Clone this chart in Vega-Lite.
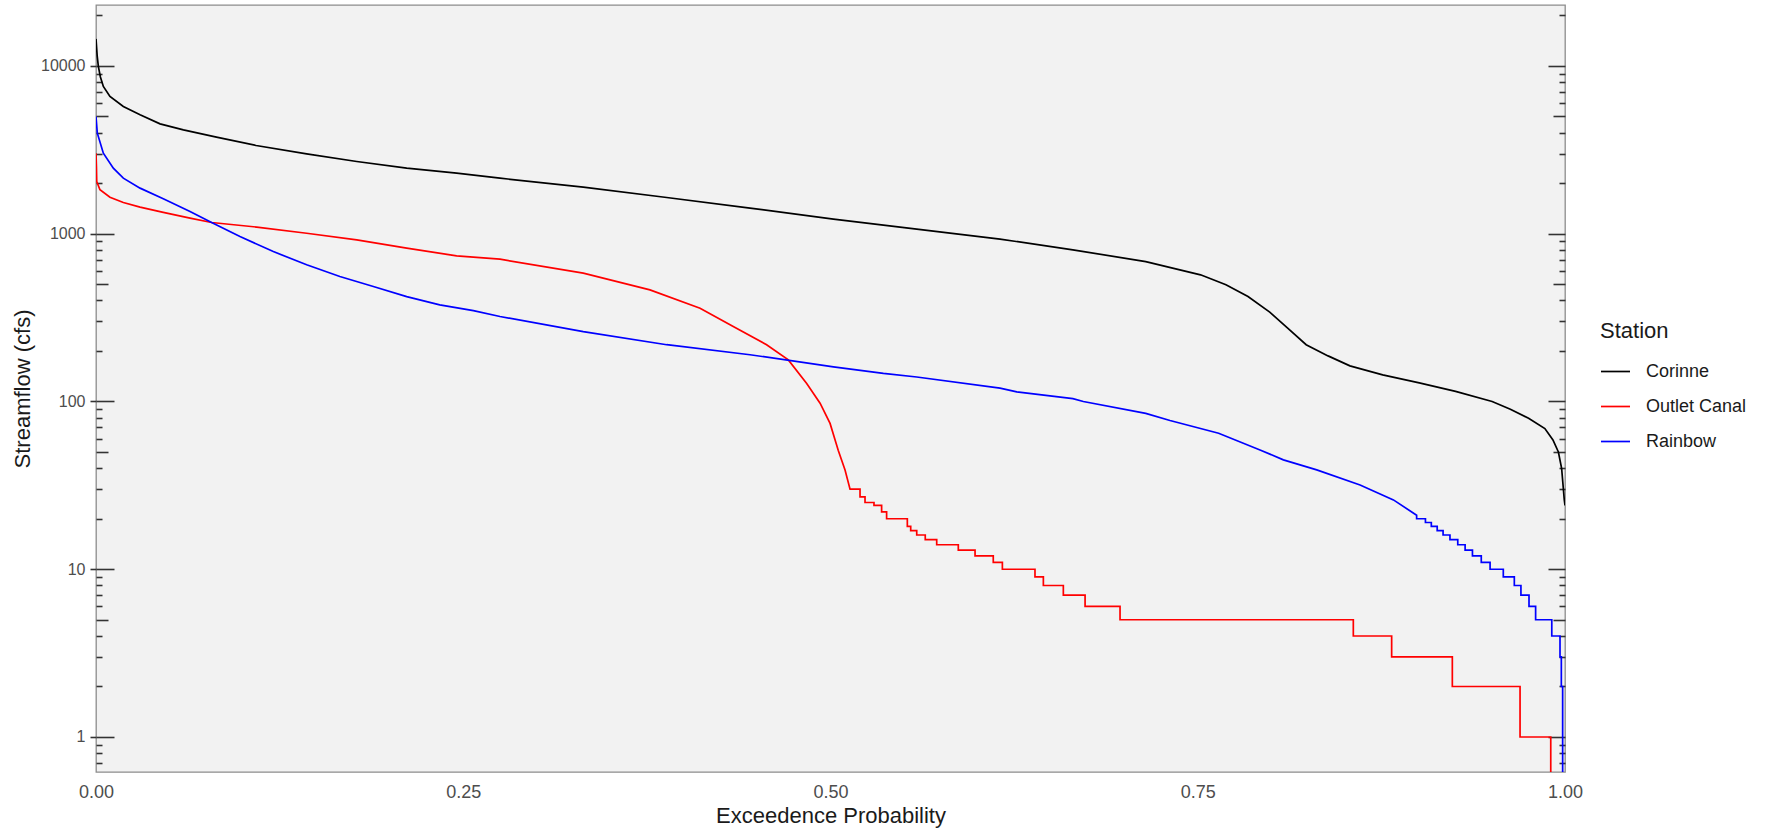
{
  "$schema": "https://vega.github.io/schema/vega-lite/v6.json",
  "width": 1469,
  "height": 767,
  "autosize": {"type": "none"},
  "padding": {"left": 96, "top": 5, "right": 202, "bottom": 61},
  "background": "white",
  "config": {
    "font": "Liberation Sans",
    "view": {"fill": "#F2F2F2", "stroke": "#8C8C8C", "strokeWidth": 1.3},
    "axis": {"grid": false, "domain": false, "tickColor": "#333333", "tickWidth": 1.6, "labelFont": "Liberation Sans", "titleFont": "Liberation Sans"},
    "legend": {"labelFont": "Liberation Sans", "titleFont": "Liberation Sans"}
  },
  "data": {"values": [
    {"station": "Corinne", "p": 0, "flow": 14500},
    {"station": "Corinne", "p": 0.0008, "flow": 11500},
    {"station": "Corinne", "p": 0.0016, "flow": 9940},
    {"station": "Corinne", "p": 0.003, "flow": 8600},
    {"station": "Corinne", "p": 0.005, "flow": 7550},
    {"station": "Corinne", "p": 0.0095, "flow": 6580},
    {"station": "Corinne", "p": 0.0186, "flow": 5740},
    {"station": "Corinne", "p": 0.03, "flow": 5120},
    {"station": "Corinne", "p": 0.0436, "flow": 4520},
    {"station": "Corinne", "p": 0.0595, "flow": 4165},
    {"station": "Corinne", "p": 0.082, "flow": 3770},
    {"station": "Corinne", "p": 0.109, "flow": 3357},
    {"station": "Corinne", "p": 0.1434, "flow": 2994},
    {"station": "Corinne", "p": 0.1775, "flow": 2696},
    {"station": "Corinne", "p": 0.2115, "flow": 2461},
    {"station": "Corinne", "p": 0.2455, "flow": 2297},
    {"station": "Corinne", "p": 0.275, "flow": 2144},
    {"station": "Corinne", "p": 0.3317, "flow": 1897},
    {"station": "Corinne", "p": 0.3885, "flow": 1644},
    {"station": "Corinne", "p": 0.4452, "flow": 1422},
    {"station": "Corinne", "p": 0.502, "flow": 1223},
    {"station": "Corinne", "p": 0.5587, "flow": 1065},
    {"station": "Corinne", "p": 0.6154, "flow": 929},
    {"station": "Corinne", "p": 0.665, "flow": 802},
    {"station": "Corinne", "p": 0.7146, "flow": 682},
    {"station": "Corinne", "p": 0.7519, "flow": 569},
    {"station": "Corinne", "p": 0.7692, "flow": 496},
    {"station": "Corinne", "p": 0.7842, "flow": 422},
    {"station": "Corinne", "p": 0.799, "flow": 341},
    {"station": "Corinne", "p": 0.8114, "flow": 273},
    {"station": "Corinne", "p": 0.8238, "flow": 218},
    {"station": "Corinne", "p": 0.8387, "flow": 187},
    {"station": "Corinne", "p": 0.8536, "flow": 163},
    {"station": "Corinne", "p": 0.8759, "flow": 144},
    {"station": "Corinne", "p": 0.9008, "flow": 129},
    {"station": "Corinne", "p": 0.9255, "flow": 115},
    {"station": "Corinne", "p": 0.9504, "flow": 100},
    {"station": "Corinne", "p": 0.9628, "flow": 90},
    {"station": "Corinne", "p": 0.9752, "flow": 79.5},
    {"station": "Corinne", "p": 0.9863, "flow": 69},
    {"station": "Corinne", "p": 0.9918, "flow": 59},
    {"station": "Corinne", "p": 0.9955, "flow": 50},
    {"station": "Corinne", "p": 0.9977, "flow": 40},
    {"station": "Corinne", "p": 0.9995, "flow": 26},
    {"station": "Corinne", "p": 1.0, "flow": 24},

    {"station": "Outlet Canal", "p": 0, "flow": 3020},
    {"station": "Outlet Canal", "p": 0.0003, "flow": 2500},
    {"station": "Outlet Canal", "p": 0.0005, "flow": 2048},
    {"station": "Outlet Canal", "p": 0.0027, "flow": 1828},
    {"station": "Outlet Canal", "p": 0.0095, "flow": 1652},
    {"station": "Outlet Canal", "p": 0.0186, "flow": 1535},
    {"station": "Outlet Canal", "p": 0.03, "flow": 1442},
    {"station": "Outlet Canal", "p": 0.0458, "flow": 1340},
    {"station": "Outlet Canal", "p": 0.064, "flow": 1240},
    {"station": "Outlet Canal", "p": 0.0787, "flow": 1167},
    {"station": "Outlet Canal", "p": 0.1094, "flow": 1096},
    {"station": "Outlet Canal", "p": 0.1434, "flow": 1007},
    {"station": "Outlet Canal", "p": 0.1775, "flow": 920},
    {"station": "Outlet Canal", "p": 0.2115, "flow": 820},
    {"station": "Outlet Canal", "p": 0.2455, "flow": 738},
    {"station": "Outlet Canal", "p": 0.275, "flow": 705},
    {"station": "Outlet Canal", "p": 0.3317, "flow": 582},
    {"station": "Outlet Canal", "p": 0.3771, "flow": 463},
    {"station": "Outlet Canal", "p": 0.4112, "flow": 360},
    {"station": "Outlet Canal", "p": 0.4338, "flow": 280},
    {"station": "Outlet Canal", "p": 0.4565, "flow": 218},
    {"station": "Outlet Canal", "p": 0.4713, "flow": 177},
    {"station": "Outlet Canal", "p": 0.4838, "flow": 128},
    {"station": "Outlet Canal", "p": 0.4929, "flow": 97.7},
    {"station": "Outlet Canal", "p": 0.4997, "flow": 74},
    {"station": "Outlet Canal", "p": 0.5053, "flow": 51},
    {"station": "Outlet Canal", "p": 0.5099, "flow": 39},
    {"station": "Outlet Canal", "p": 0.5133, "flow": 30},
    {"station": "Outlet Canal", "p": 0.5201, "flow": 30},
    {"station": "Outlet Canal", "p": 0.5201, "flow": 27},
    {"station": "Outlet Canal", "p": 0.5235, "flow": 27},
    {"station": "Outlet Canal", "p": 0.5235, "flow": 25},
    {"station": "Outlet Canal", "p": 0.5296, "flow": 25},
    {"station": "Outlet Canal", "p": 0.5296, "flow": 24},
    {"station": "Outlet Canal", "p": 0.5348, "flow": 24},
    {"station": "Outlet Canal", "p": 0.5348, "flow": 22},
    {"station": "Outlet Canal", "p": 0.5382, "flow": 22},
    {"station": "Outlet Canal", "p": 0.5382, "flow": 20},
    {"station": "Outlet Canal", "p": 0.5523, "flow": 20},
    {"station": "Outlet Canal", "p": 0.5523, "flow": 18},
    {"station": "Outlet Canal", "p": 0.5546, "flow": 18},
    {"station": "Outlet Canal", "p": 0.5546, "flow": 17},
    {"station": "Outlet Canal", "p": 0.5587, "flow": 17},
    {"station": "Outlet Canal", "p": 0.5587, "flow": 16},
    {"station": "Outlet Canal", "p": 0.5645, "flow": 16},
    {"station": "Outlet Canal", "p": 0.5645, "flow": 15},
    {"station": "Outlet Canal", "p": 0.5723, "flow": 15},
    {"station": "Outlet Canal", "p": 0.5723, "flow": 14},
    {"station": "Outlet Canal", "p": 0.587, "flow": 14},
    {"station": "Outlet Canal", "p": 0.587, "flow": 13},
    {"station": "Outlet Canal", "p": 0.5984, "flow": 13},
    {"station": "Outlet Canal", "p": 0.5984, "flow": 12},
    {"station": "Outlet Canal", "p": 0.6108, "flow": 12},
    {"station": "Outlet Canal", "p": 0.6108, "flow": 11},
    {"station": "Outlet Canal", "p": 0.617, "flow": 11},
    {"station": "Outlet Canal", "p": 0.617, "flow": 10},
    {"station": "Outlet Canal", "p": 0.6392, "flow": 10},
    {"station": "Outlet Canal", "p": 0.6392, "flow": 9},
    {"station": "Outlet Canal", "p": 0.6449, "flow": 9},
    {"station": "Outlet Canal", "p": 0.6449, "flow": 8},
    {"station": "Outlet Canal", "p": 0.6585, "flow": 8},
    {"station": "Outlet Canal", "p": 0.6585, "flow": 7},
    {"station": "Outlet Canal", "p": 0.6733, "flow": 7},
    {"station": "Outlet Canal", "p": 0.6733, "flow": 6},
    {"station": "Outlet Canal", "p": 0.6971, "flow": 6},
    {"station": "Outlet Canal", "p": 0.6971, "flow": 5},
    {"station": "Outlet Canal", "p": 0.8559, "flow": 5},
    {"station": "Outlet Canal", "p": 0.8559, "flow": 4},
    {"station": "Outlet Canal", "p": 0.882, "flow": 4},
    {"station": "Outlet Canal", "p": 0.882, "flow": 3},
    {"station": "Outlet Canal", "p": 0.9233, "flow": 3},
    {"station": "Outlet Canal", "p": 0.9233, "flow": 2},
    {"station": "Outlet Canal", "p": 0.9694, "flow": 2},
    {"station": "Outlet Canal", "p": 0.9694, "flow": 1},
    {"station": "Outlet Canal", "p": 0.9903, "flow": 1},
    {"station": "Outlet Canal", "p": 0.9903, "flow": 0.3},
    {"station": "Outlet Canal", "p": 1.0, "flow": 0.3},

    {"station": "Rainbow", "p": 0, "flow": 5000},
    {"station": "Rainbow", "p": 0.0009, "flow": 3975},
    {"station": "Rainbow", "p": 0.005, "flow": 3020},
    {"station": "Rainbow", "p": 0.0118, "flow": 2460},
    {"station": "Rainbow", "p": 0.0186, "flow": 2144},
    {"station": "Rainbow", "p": 0.03, "flow": 1870},
    {"station": "Rainbow", "p": 0.0458, "flow": 1615},
    {"station": "Rainbow", "p": 0.064, "flow": 1356},
    {"station": "Rainbow", "p": 0.0787, "flow": 1167},
    {"station": "Rainbow", "p": 0.098, "flow": 962},
    {"station": "Rainbow", "p": 0.1207, "flow": 783},
    {"station": "Rainbow", "p": 0.1434, "flow": 653},
    {"station": "Rainbow", "p": 0.166, "flow": 556},
    {"station": "Rainbow", "p": 0.1888, "flow": 485},
    {"station": "Rainbow", "p": 0.2115, "flow": 422},
    {"station": "Rainbow", "p": 0.234, "flow": 377},
    {"station": "Rainbow", "p": 0.2569, "flow": 348},
    {"station": "Rainbow", "p": 0.275, "flow": 321},
    {"station": "Rainbow", "p": 0.3317, "flow": 261},
    {"station": "Rainbow", "p": 0.3885, "flow": 218},
    {"station": "Rainbow", "p": 0.4452, "flow": 190},
    {"station": "Rainbow", "p": 0.502, "flow": 161},
    {"station": "Rainbow", "p": 0.536, "flow": 147},
    {"station": "Rainbow", "p": 0.5587, "flow": 140},
    {"station": "Rainbow", "p": 0.6154, "flow": 120},
    {"station": "Rainbow", "p": 0.6268, "flow": 114},
    {"station": "Rainbow", "p": 0.665, "flow": 104},
    {"station": "Rainbow", "p": 0.6721, "flow": 100},
    {"station": "Rainbow", "p": 0.7146, "flow": 85},
    {"station": "Rainbow", "p": 0.7311, "flow": 77},
    {"station": "Rainbow", "p": 0.7642, "flow": 64.7},
    {"station": "Rainbow", "p": 0.7924, "flow": 51.4},
    {"station": "Rainbow", "p": 0.8083, "flow": 44.9},
    {"station": "Rainbow", "p": 0.831, "flow": 39.1},
    {"station": "Rainbow", "p": 0.8605, "flow": 31.8},
    {"station": "Rainbow", "p": 0.8832, "flow": 25.9},
    {"station": "Rainbow", "p": 0.899, "flow": 21},
    {"station": "Rainbow", "p": 0.899, "flow": 20},
    {"station": "Rainbow", "p": 0.905, "flow": 20},
    {"station": "Rainbow", "p": 0.905, "flow": 19},
    {"station": "Rainbow", "p": 0.909, "flow": 19},
    {"station": "Rainbow", "p": 0.909, "flow": 18},
    {"station": "Rainbow", "p": 0.913, "flow": 18},
    {"station": "Rainbow", "p": 0.913, "flow": 17},
    {"station": "Rainbow", "p": 0.917, "flow": 17},
    {"station": "Rainbow", "p": 0.917, "flow": 16},
    {"station": "Rainbow", "p": 0.9217, "flow": 16},
    {"station": "Rainbow", "p": 0.9217, "flow": 15},
    {"station": "Rainbow", "p": 0.927, "flow": 15},
    {"station": "Rainbow", "p": 0.927, "flow": 14},
    {"station": "Rainbow", "p": 0.932, "flow": 14},
    {"station": "Rainbow", "p": 0.932, "flow": 13},
    {"station": "Rainbow", "p": 0.937, "flow": 13},
    {"station": "Rainbow", "p": 0.937, "flow": 12},
    {"station": "Rainbow", "p": 0.943, "flow": 12},
    {"station": "Rainbow", "p": 0.943, "flow": 11},
    {"station": "Rainbow", "p": 0.949, "flow": 11},
    {"station": "Rainbow", "p": 0.949, "flow": 10},
    {"station": "Rainbow", "p": 0.958, "flow": 10},
    {"station": "Rainbow", "p": 0.958, "flow": 9},
    {"station": "Rainbow", "p": 0.9655, "flow": 9},
    {"station": "Rainbow", "p": 0.9655, "flow": 8},
    {"station": "Rainbow", "p": 0.97, "flow": 8},
    {"station": "Rainbow", "p": 0.97, "flow": 7},
    {"station": "Rainbow", "p": 0.9755, "flow": 7},
    {"station": "Rainbow", "p": 0.9755, "flow": 6},
    {"station": "Rainbow", "p": 0.98, "flow": 6},
    {"station": "Rainbow", "p": 0.98, "flow": 5},
    {"station": "Rainbow", "p": 0.991, "flow": 5},
    {"station": "Rainbow", "p": 0.991, "flow": 4},
    {"station": "Rainbow", "p": 0.9966, "flow": 4},
    {"station": "Rainbow", "p": 0.9966, "flow": 3},
    {"station": "Rainbow", "p": 0.9975, "flow": 3},
    {"station": "Rainbow", "p": 0.9975, "flow": 2},
    {"station": "Rainbow", "p": 0.9984, "flow": 2},
    {"station": "Rainbow", "p": 0.9984, "flow": 0.3},
    {"station": "Rainbow", "p": 1.0, "flow": 0.3}
  ]},
  "resolve": {"axis": {"y": "independent"}},
  "layer": [
    {
      "mark": {"type": "line", "strokeWidth": 1.7, "clip": true},
      "encoding": {
        "x": {"field": "p", "type": "quantitative",
          "scale": {"domain": [0, 1], "nice": false, "zero": false},
          "axis": {"title": "Exceedence Probability", "values": [0, 0.25, 0.5, 0.75, 1], "format": ".2f", "ticks": false, "labelFlush": false, "labelFontSize": 18, "labelColor": "#4D4D4D", "labelPadding": 11, "titleFontSize": 22, "titleFontWeight": "normal", "titleColor": "#1A1A1A", "titlePadding": 4}},
        "y": {"field": "flow", "type": "quantitative",
          "scale": {"type": "log", "domain": [0.6184, 23100], "nice": false},
          "axis": {"orient": "left", "title": "Streamflow (cfs)", "values": [1, 10, 100, 1000, 10000], "format": "d", "tickSize": 6, "labelFontSize": 16, "labelColor": "#4D4D4D", "labelPadding": 5, "titleFontSize": 22, "titleFontWeight": "normal", "titleColor": "#1A1A1A", "titlePadding": 6}},
        "color": {"field": "station", "type": "nominal",
          "scale": {"domain": ["Corinne", "Outlet Canal", "Rainbow"], "range": ["#000000", "#FF0000", "#0000FF"]},
          "legend": {"title": "Station", "orient": "none", "legendX": 1504, "legendY": 316, "padding": 0, "symbolType": "stroke", "symbolSize": 841, "symbolStrokeWidth": 1.7, "titleFontSize": 22, "titleFontWeight": "normal", "titleColor": "#1A1A1A", "labelFontSize": 18, "labelColor": "#1A1A1A", "labelOffset": 15, "titlePadding": 13, "rowPadding": 10}},
        "order": {"value": null}
      }
    },
    {
      "mark": {"type": "point", "opacity": 0},
      "encoding": {
        "y": {"field": "flow", "type": "quantitative", "scale": {"type": "log", "domain": [0.6184, 23100], "nice": false},
          "axis": {"orient": "left", "title": null, "values": [1, 10, 100, 1000, 10000], "tickSize": -18, "labels": false}}
      }
    },
    {
      "mark": {"type": "point", "opacity": 0},
      "encoding": {
        "y": {"field": "flow", "type": "quantitative", "scale": {"type": "log", "domain": [0.6184, 23100], "nice": false},
          "axis": {"orient": "left", "title": null, "values": [5, 50, 500, 5000], "tickSize": -12, "labels": false}}
      }
    },
    {
      "mark": {"type": "point", "opacity": 0},
      "encoding": {
        "y": {"field": "flow", "type": "quantitative", "scale": {"type": "log", "domain": [0.6184, 23100], "nice": false},
          "axis": {"orient": "left", "title": null, "values": [0.7, 0.8, 0.9, 2, 3, 4, 6, 7, 8, 9, 20, 30, 40, 60, 70, 80, 90, 200, 300, 400, 600, 700, 800, 900, 2000, 3000, 4000, 6000, 7000, 8000, 9000, 20000], "tickSize": -6, "labels": false}}
      }
    },
    {
      "mark": {"type": "point", "opacity": 0},
      "encoding": {
        "y": {"field": "flow", "type": "quantitative", "scale": {"type": "log", "domain": [0.6184, 23100], "nice": false},
          "axis": {"orient": "right", "title": null, "values": [1, 10, 100, 1000, 10000], "tickSize": -17, "labels": false}}
      }
    },
    {
      "mark": {"type": "point", "opacity": 0},
      "encoding": {
        "y": {"field": "flow", "type": "quantitative", "scale": {"type": "log", "domain": [0.6184, 23100], "nice": false},
          "axis": {"orient": "right", "title": null, "values": [5, 50, 500, 5000], "tickSize": -12, "labels": false}}
      }
    },
    {
      "mark": {"type": "point", "opacity": 0},
      "encoding": {
        "y": {"field": "flow", "type": "quantitative", "scale": {"type": "log", "domain": [0.6184, 23100], "nice": false},
          "axis": {"orient": "right", "title": null, "values": [0.7, 0.8, 0.9, 2, 3, 4, 6, 7, 8, 9, 20, 30, 40, 60, 70, 80, 90, 200, 300, 400, 600, 700, 800, 900, 2000, 3000, 4000, 6000, 7000, 8000, 9000, 20000], "tickSize": -6, "labels": false}}
      }
    }
  ]
}
